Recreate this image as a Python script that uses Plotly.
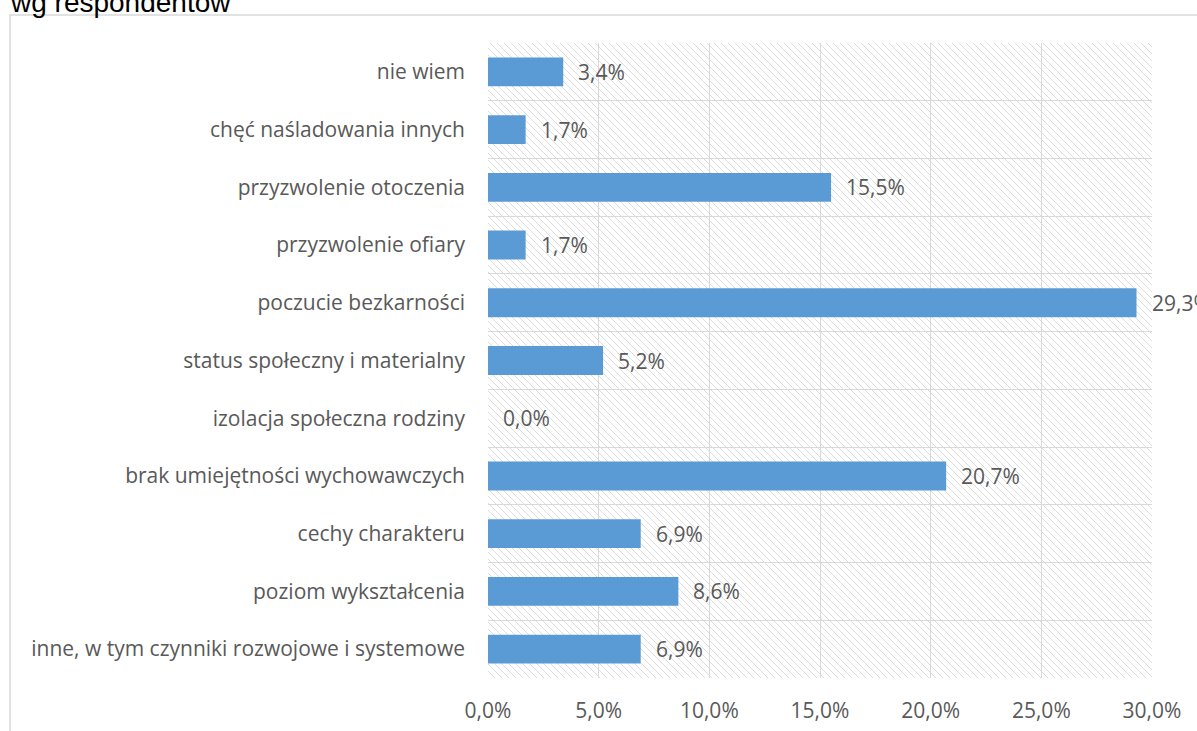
import plotly.graph_objects as go

categories = [
    "nie wiem",
    "chęć naśladowania innych",
    "przyzwolenie otoczenia",
    "przyzwolenie ofiary",
    "poczucie bezkarności",
    "status społeczny i materialny",
    "izolacja społeczna rodziny",
    "brak umiejętności wychowawczych",
    "cechy charakteru",
    "poziom wykształcenia",
    "inne, w tym czynniki rozwojowe i systemowe",
]
values = [3.4, 1.7, 15.5, 1.7, 29.3, 5.2, 0.0, 20.7, 6.9, 8.6, 6.9]
x_ticks = [0, 5, 10, 15, 20, 25, 30]
x_max = 30
title_text = "wg respondentów"

W, H = 1197, 731
L, R, T, B = 488, 1152, 43, 678
pw, ph = R - L, B - T

def px_x(p):
    return (p - L) / pw

def px_y(p):
    return (B - p) / ph

FONT = "Open Sans"
FS = 21
GRAY_TXT = "#595959"
GRID = "#d9d9d9"

fig = go.Figure()
fig.add_trace(go.Bar(
    y=categories, x=values, orientation="h", width=0.5,
    marker=dict(color="#5b9bd5", line=dict(width=0)),
    hoverinfo="x+y", showlegend=False,
))

# data labels
annotations = [
    dict(x=v, y=c, xref="x", yref="y", text=f"{v:.1f}%".replace(".", ","),
         xanchor="left", yanchor="middle", xshift=13, showarrow=False,
         font=dict(family=FONT, size=FS, color=GRAY_TXT))
    for c, v in zip(categories, values)
]
annotations.append(dict(text=title_text, xref="paper", yref="paper",
                        x=px_x(8), y=px_y(20), xanchor="left", yanchor="bottom",
                        showarrow=False,
                        font=dict(family="Liberation Sans", size=28, color="#000000")))

# hatched plot-area background (decorative diagonal lines, clipped to plot area)
step = 7
segs = []
k = -ph
while k < pw:
    s0 = max(0, -k)
    s1 = min(ph, pw - k)
    if s1 > s0:
        x0p, y0p = k + s0, s0
        x1p, y1p = k + s1, s1
        segs.append(f"M{x0p / pw:.5f},{1 - y0p / ph:.5f}L{x1p / pw:.5f},{1 - y1p / ph:.5f}")
    k += step

shapes = [
    dict(type="path", xref="x domain", yref="y domain", path="".join(segs),
         line=dict(color="#dcdcdc", width=1), layer="below"),
    dict(type="rect", xref="paper", yref="paper",
         x0=px_x(10), x1=px_x(1210), y0=px_y(745), y1=px_y(15),
         line=dict(color="#d9d9d9", width=1.5), fillcolor="rgba(0,0,0,0)", layer="below"),
]

fig.update_layout(
    width=W, height=H,
    margin=dict(l=L, r=W - R, t=T, b=H - B, pad=0, autoexpand=False),
    paper_bgcolor="white", plot_bgcolor="white",
    separators=", ",
    font=dict(family=FONT, size=FS, color=GRAY_TXT),
    xaxis=dict(range=[0, x_max], tickvals=x_ticks,
               ticktext=[f"{t:.1f}%".replace(".", ",") for t in x_ticks],
               showgrid=True, gridcolor=GRID, gridwidth=1.3, zeroline=False,
               ticks="", ticklabelstandoff=18, showline=False, automargin=False),
    yaxis=dict(type="category", categoryorder="array", categoryarray=categories,
               autorange="reversed", tickson="boundaries", showgrid=True,
               gridcolor=GRID, gridwidth=1.3,
               ticks="", ticklabelstandoff=22, automargin=False,
               showline=False, zeroline=False),
    shapes=shapes,
    annotations=annotations,
)

fig.write_html("out.html", config={"displayModeBar": False},
               post_script="document.body.style.margin='0';")
